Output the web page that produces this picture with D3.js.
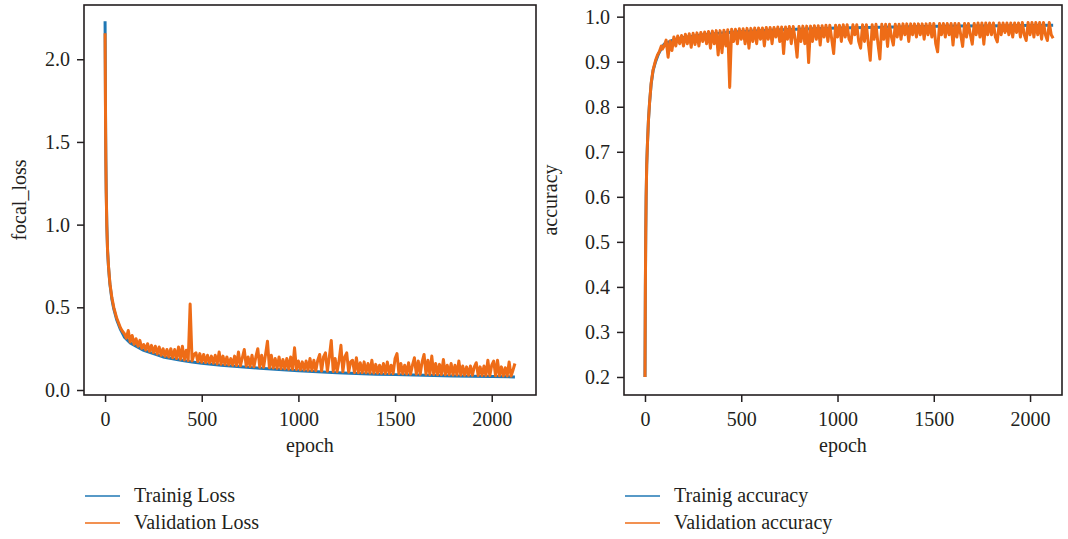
<!DOCTYPE html>
<html>
<head>
<meta charset="utf-8">
<script src="https://cdn.jsdelivr.net/npm/d3@7"></script>
<style>
body { margin: 0; background: #fff; }
svg text { font-family: "Liberation Serif", "DejaVu Serif", serif; fill: #231f20; }
</style>
</head>
<body>
<svg id="chart" width="1068" height="539"></svg>
<script>
// values
var xTicks = [0, 500, 1000, 1500, 2000];
var lossTicks = [0.0, 0.5, 1.0, 1.5, 2.0];
var accTicks = [0.2, 0.3, 0.4, 0.5, 0.6, 0.7, 0.8, 0.9, 1.0];

var trainLossEpochs = [0,1,2,3,4,6,9,13,18,25,35,45,60,80,100,130,160,200,250,300,350,400,450,500,600,700,800,900,1000,1100,1200,1300,1400,1500,1600,1700,1800,1900,2000,2120];
var trainLoss = [2.23,2.0,1.75,1.55,1.40,1.20,1.00,0.84,0.74,0.64,0.55,0.49,0.425,0.365,0.32,0.285,0.265,0.24,0.22,0.20,0.189,0.178,0.170,0.162,0.150,0.140,0.132,0.124,0.117,0.110,0.105,0.100,0.096,0.093,0.090,0.088,0.085,0.083,0.081,0.079];

var valLossHeadEpochs = [0,1,2,3,4,6,9,13,18,25,35,45,60,80,90];
var valLossHead = [2.157,1.95,1.72,1.53,1.38,1.19,0.99,0.84,0.745,0.645,0.56,0.50,0.435,0.375,0.355];
// from epoch 100 on, one value every 10 epochs
var tailStart = 100, tailStep = 10;
var valLossTail = [
  0.34,0.314,0.36,0.291,0.33,0.277,0.31,0.265,0.30,0.252,
  0.275,0.242,0.28,0.234,0.27,0.226,0.265,0.218,0.26,0.21,
  0.25,0.204,0.245,0.199,0.25,0.195,0.245,0.19,0.26,0.186,
  0.265,0.182,0.24,0.179,0.52,0.176,0.215,0.225,0.172,0.22,
  0.168,0.215,0.166,0.21,0.164,0.205,0.162,0.21,0.158,0.23,
  0.156,0.205,0.154,0.20,0.152,0.19,0.150,0.205,0.148,0.23,
  0.146,0.195,0.245,0.144,0.20,0.142,0.21,0.141,0.20,0.25,
  0.138,0.21,0.137,0.215,0.295,0.135,0.21,0.133,0.19,0.131,
  0.20,0.129,0.185,0.128,0.19,0.126,0.20,0.125,0.255,0.124,
  0.175,0.122,0.17,0.121,0.175,0.119,0.19,0.118,0.18,0.117,
  0.18,0.215,0.115,0.20,0.225,0.114,0.20,0.30,0.112,0.19,
  0.111,0.175,0.27,0.110,0.20,0.225,0.108,0.17,0.18,0.106,
  0.195,0.105,0.165,0.105,0.17,0.104,0.16,0.103,0.18,0.102,
  0.155,0.102,0.15,0.101,0.16,0.100,0.17,0.100,0.15,0.099,
  0.19,0.22,0.098,0.16,0.098,0.15,0.097,0.165,0.096,0.15,
  0.195,0.096,0.175,0.095,0.17,0.215,0.095,0.18,0.094,0.205,
  0.094,0.16,0.093,0.155,0.093,0.185,0.092,0.15,0.092,0.16,
  0.091,0.15,0.091,0.175,0.090,0.145,0.090,0.14,0.089,0.145,
  0.089,0.14,0.165,0.088,0.14,0.088,0.145,0.087,0.18,0.087,
  0.15,0.175,0.086,0.18,0.086,0.14,0.085,0.135,0.085,0.17,
  0.085,0.12,0.16
];

var trainAccEpochs = [0,2,4,6,9,13,18,24,32,42,55,70,85,100,150,200,300,400,500,700,1000,1300,1600,1900,2120];
var trainAcc = [0.20,0.40,0.52,0.60,0.67,0.72,0.77,0.81,0.85,0.88,0.90,0.917,0.929,0.939,0.949,0.954,0.960,0.964,0.967,0.971,0.975,0.977,0.979,0.980,0.981];

var valAccHeadEpochs = [0,2,4,6,9,13,18,24,32,42,55,65,75,85,90];
var valAccHead = [0.20,0.40,0.52,0.60,0.67,0.72,0.77,0.81,0.852,0.882,0.903,0.915,0.923,0.935,0.928];
var valAccTail = [
  0.935,0.948,0.91,0.946,0.925,0.955,0.935,0.957,0.94,0.958,
  0.935,0.961,0.94,0.962,0.932,0.963,0.938,0.964,0.935,0.965,
  0.945,0.966,0.94,0.967,0.93,0.968,0.94,0.969,0.915,0.969,
  0.92,0.97,0.935,0.971,0.843,0.972,0.945,0.972,0.94,0.973,
  0.95,0.973,0.94,0.974,0.93,0.974,0.945,0.975,0.94,0.975,
  0.95,0.975,0.935,0.976,0.95,0.976,0.94,0.976,0.955,0.977,
  0.945,0.977,0.918,0.977,0.95,0.978,0.94,0.978,0.95,0.91,
  0.978,0.945,0.979,0.94,0.979,0.898,0.979,0.945,0.98,0.95,
  0.98,0.937,0.98,0.955,0.981,0.945,0.981,0.95,0.918,0.981,
  0.955,0.981,0.945,0.982,0.955,0.982,0.95,0.941,0.982,0.96,
  0.982,0.945,0.93,0.982,0.945,0.982,0.94,0.903,0.982,0.95,
  0.983,0.94,0.906,0.983,0.95,0.983,0.934,0.983,0.955,0.937,
  0.983,0.955,0.983,0.95,0.984,0.96,0.984,0.945,0.984,0.96,
  0.984,0.955,0.984,0.96,0.984,0.95,0.984,0.96,0.985,0.955,
  0.985,0.94,0.922,0.985,0.96,0.985,0.955,0.985,0.96,0.985,
  0.937,0.985,0.955,0.985,0.96,0.934,0.985,0.955,0.985,0.96,
  0.939,0.985,0.96,0.986,0.955,0.986,0.939,0.986,0.96,0.986,
  0.96,0.986,0.955,0.944,0.986,0.96,0.986,0.965,0.986,0.96,
  0.986,0.955,0.986,0.965,0.986,0.955,0.987,0.96,0.947,0.987,
  0.96,0.987,0.955,0.987,0.96,0.987,0.95,0.987,0.96,0.947,
  0.987,0.96,0.952
];

var blue = "#1f77b4";
var orange = "#ee6c17";
var ink = "#231f20";

function zipSeries(epochs, values) {
  return epochs.map(function(e, i) { return [e, values[i]]; });
}
function withTail(headEpochs, head, tail) {
  var pts = zipSeries(headEpochs, head);
  tail.forEach(function(v, i) { pts.push([tailStart + i * tailStep, v]); });
  return pts;
}

var svg = d3.select("#chart");

function drawPanel(opt) {
  var x = d3.scaleLinear().domain(opt.xDomain).range([opt.left, opt.right]);
  var y = d3.scaleLinear().domain(opt.yDomain).range([opt.bottom, opt.top]);
  var g = svg.append("g");

  var line = d3.line()
    .x(function(d) { return x(d[0]); })
    .y(function(d) { return y(d[1]); });

  g.append("path").datum(opt.train)
    .attr("d", line).attr("fill", "none")
    .attr("stroke", blue).attr("stroke-width", 3).attr("stroke-linejoin", "round");
  g.append("path").datum(opt.val)
    .attr("d", line).attr("fill", "none")
    .attr("stroke", orange).attr("stroke-width", 3).attr("stroke-linejoin", "round");

  var xAxis = g.append("g")
    .attr("transform", "translate(0," + opt.bottom + ")")
    .call(d3.axisBottom(x).tickValues(xTicks).tickSize(7).tickPadding(10).tickFormat(d3.format("d")));
  var yAxis = g.append("g")
    .attr("transform", "translate(" + opt.left + ",0)")
    .call(d3.axisLeft(y).tickValues(opt.yTicks).tickSize(7).tickPadding(7).tickFormat(d3.format(".1f")));
  [xAxis, yAxis].forEach(function(a) {
    a.select(".domain").remove();
    a.selectAll("line").attr("stroke", ink).attr("stroke-width", 1.5);
    a.selectAll("text").style("font-size", "20px").attr("fill", ink);
  });

  g.append("rect")
    .attr("x", opt.left).attr("y", opt.top)
    .attr("width", opt.right - opt.left).attr("height", opt.bottom - opt.top)
    .attr("fill", "none").attr("stroke", ink).attr("stroke-width", 1.6);

  g.append("text")
    .attr("x", (opt.left + opt.right) / 2).attr("y", 452)
    .attr("text-anchor", "middle").style("font-size", "20px")
    .text("epoch");
  g.append("text")
    .attr("transform", "translate(" + opt.yLabelX + "," + (opt.top + opt.bottom) / 2 + ") rotate(-90)")
    .attr("text-anchor", "middle").style("font-size", "20px")
    .text(opt.yLabel);

  var leg = g.append("g");
  [[blue, opt.names[0], 496, 502], [orange, opt.names[1], 523, 529]].forEach(function(r) {
    leg.append("line")
      .attr("x1", opt.legendX).attr("x2", opt.legendX + 35)
      .attr("y1", r[2]).attr("y2", r[2])
      .attr("stroke", r[0]).attr("stroke-width", 1.5);
    leg.append("text")
      .attr("x", opt.legendX + 49).attr("y", r[3])
      .style("font-size", "20px")
      .text(r[1]);
  });
}

drawPanel({
  left: 84, right: 536, top: 5, bottom: 395,
  xDomain: [-109, 2229], yDomain: [-0.0302, 2.328],
  yTicks: lossTicks, yLabel: "focal_loss", yLabelX: 26,
  train: zipSeries(trainLossEpochs, trainLoss),
  val: withTail(valLossHeadEpochs, valLossHead, valLossTail),
  names: ["Trainig Loss", "Validation Loss"], legendX: 85
});

drawPanel({
  left: 624, right: 1062, top: 5, bottom: 395,
  xDomain: [-109, 2166], yDomain: [0.160, 1.0259],
  yTicks: accTicks, yLabel: "accuracy", yLabelX: 557,
  train: zipSeries(trainAccEpochs, trainAcc),
  val: withTail(valAccHeadEpochs, valAccHead, valAccTail),
  names: ["Trainig accuracy", "Validation accuracy"], legendX: 625
});
</script>
</body>
</html>
